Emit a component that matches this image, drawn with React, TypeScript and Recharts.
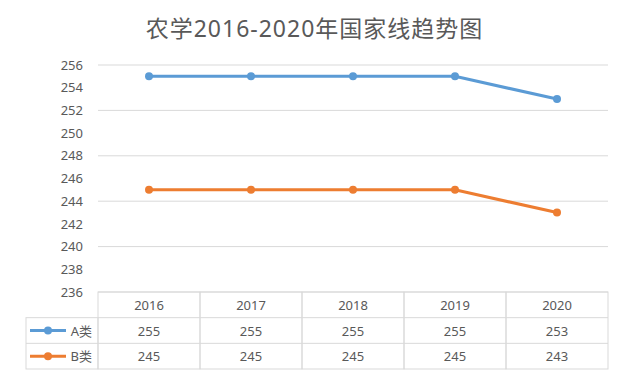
import React from "react";
import { LineChart, Line, XAxis, YAxis, CartesianGrid } from "recharts";

const years = ["2016", "2017", "2018", "2019", "2020"];
const seriesA = [255, 255, 255, 255, 253];
const seriesB = [245, 245, 245, 245, 243];
const yTicks = [236, 238, 240, 242, 244, 246, 248, 250, 252, 254, 256];

const series = [
  { key: "a", name: "A类", color: "#5B9BD5", values: seriesA },
  { key: "b", name: "B类", color: "#ED7D31", values: seriesB },
];

const data = years.map((year, i) => ({
  year,
  a: seriesA[i],
  b: seriesB[i],
}));

const W = 627;
const H = 377;
const PLOT_LEFT = 98;
const PLOT_RIGHT = 608;
const PLOT_TOP = 65;
const TABLE_TOP = 292;
const TABLE_BOTTOM = 369;
const ROW_H = (TABLE_BOTTOM - TABLE_TOP) / 3;
const COL_W = (PLOT_RIGHT - PLOT_LEFT) / years.length;
const LABEL_LEFT = 26;
const BORDER = "#d9d9d9";
const TEXT = "#595959";
const FONT = "'Noto Sans', 'Noto Sans CJK SC', sans-serif";

function TableTick(props: any) {
  const { x, index } = props;
  const left = x - COL_W / 2;
  const rows = [years[index], ...series.map((s) => String(s.values[index]))];
  return (
    <g>
      <rect
        x={left}
        y={TABLE_TOP}
        width={COL_W}
        height={TABLE_BOTTOM - TABLE_TOP}
        fill="none"
        stroke={BORDER}
      />
      {[1, 2].map((r) => (
        <line
          key={r}
          x1={left}
          x2={left + COL_W}
          y1={TABLE_TOP + r * ROW_H}
          y2={TABLE_TOP + r * ROW_H}
          stroke={BORDER}
        />
      ))}
      {rows.map((t, r) => (
        <text
          key={r}
          x={x}
          y={TABLE_TOP + r * ROW_H + ROW_H / 2}
          textAnchor="middle"
          dominantBaseline="central"
          fontSize={13}
          fill={TEXT}
        >
          {t}
        </text>
      ))}
      {index === 0 && (
        <g>
          <rect
            x={LABEL_LEFT}
            y={TABLE_TOP + ROW_H}
            width={left - LABEL_LEFT}
            height={ROW_H * 2}
            fill="none"
            stroke={BORDER}
          />
          <line
            x1={LABEL_LEFT}
            x2={left}
            y1={TABLE_TOP + 2 * ROW_H}
            y2={TABLE_TOP + 2 * ROW_H}
            stroke={BORDER}
          />
          {series.map((s, r) => {
            const cy = TABLE_TOP + (r + 1) * ROW_H + ROW_H / 2;
            return (
              <g key={s.key}>
                <line x1={30} x2={66} y1={cy} y2={cy} stroke={s.color} strokeWidth={3} />
                <circle cx={48} cy={cy} r={4} fill={s.color} />
                <text
                  x={left - 6}
                  y={cy}
                  textAnchor="end"
                  dominantBaseline="central"
                  fontSize={13}
                  fill={TEXT}
                >
                  {s.name}
                </text>
              </g>
            );
          })}
        </g>
      )}
    </g>
  );
}

export default function App() {
  return (
    <div
      style={{
        position: "absolute",
        left: 0,
        top: 0,
        width: W,
        height: H,
        background: "#fff",
        fontFamily: FONT,
      }}
    >
      <div
        style={{
          position: "absolute",
          left: 0,
          width: W,
          top: 10,
          textAlign: "center",
          fontSize: 23,
          color: TEXT,
          paddingLeft: 1,
          letterSpacing: 1,
        }}
      >
        农学2016-2020年国家线趋势图
      </div>
      <LineChart
        width={W}
        height={H}
        data={data}
        margin={{ top: PLOT_TOP, right: W - PLOT_RIGHT, bottom: H - TABLE_BOTTOM, left: PLOT_LEFT - 30 }}
        style={{ fontFamily: FONT }}
      >
        <CartesianGrid vertical={false} stroke={BORDER} />
        <XAxis
          dataKey="year"
          height={TABLE_BOTTOM - TABLE_TOP}
          axisLine={false}
          tickLine={false}
          padding={{ left: COL_W / 2, right: COL_W / 2 }}
          interval={0}
          tick={<TableTick />}
        />
        <YAxis
          width={30}
          domain={[236, 256]}
          ticks={yTicks}
          axisLine={false}
          tickLine={false}
          tickSize={0}
          tickMargin={15}
          tick={{ fontSize: 13, fill: TEXT }}
        />
        {series.map((s) => (
          <Line
            key={s.key}
            dataKey={s.key}
            name={s.name}
            stroke={s.color}
            strokeWidth={3}
            dot={{ r: 4, fill: s.color, stroke: s.color, strokeWidth: 0 }}
            activeDot={false}
            isAnimationActive={false}
          />
        ))}
      </LineChart>
    </div>
  );
}
